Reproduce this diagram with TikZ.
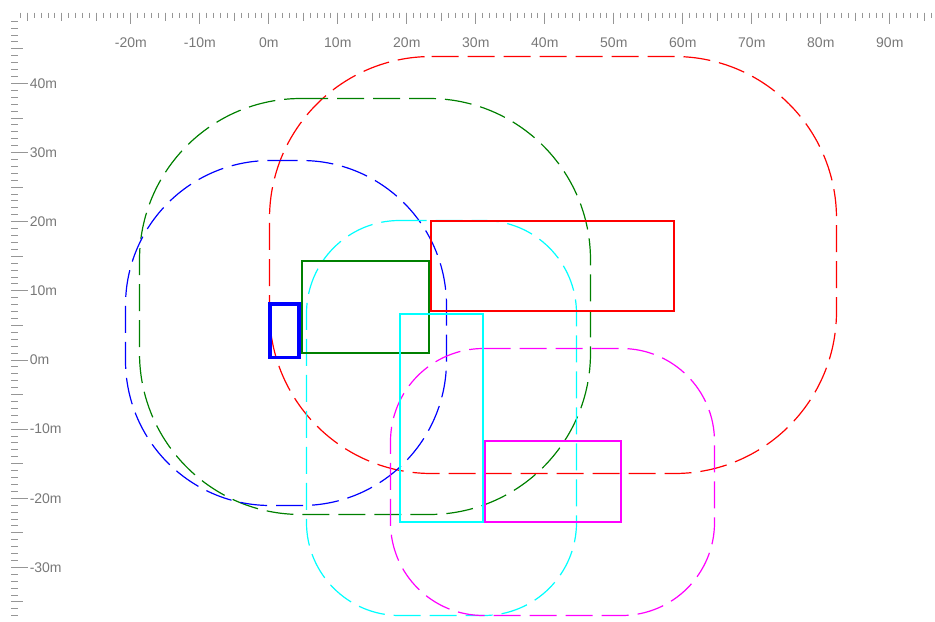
\documentclass[tikz,border=0pt]{standalone}
\usepackage{fontspec}
\setmainfont{Liberation Sans}
\definecolor{rulergray}{RGB}{150,150,150}
\definecolor{labelgray}{RGB}{120,120,120}
\definecolor{zonered}{RGB}{255,0,0}
\definecolor{zonegreen}{RGB}{0,128,0}
\definecolor{zoneblue}{RGB}{0,0,255}
\definecolor{zonecyan}{RGB}{0,255,255}
\definecolor{zonemagenta}{RGB}{255,0,255}

% rounded box: left, top, right, bottom, corner radius
\newcommand{\roundbox}[5]{({#1+#5},#2) -- ({#3-#5},#2) arc[start angle=-90,end angle=0,radius=#5]
  -- (#3,{#4-#5}) arc[start angle=0,end angle=90,radius=#5]
  -- ({#1+#5},#4) arc[start angle=90,end angle=180,radius=#5]
  -- (#1,{#2+#5}) arc[start angle=180,end angle=270,radius=#5] -- cycle}

\tikzset{
  tick/.style={draw=rulergray,line width=0.75},
  rulerlabel/.style={text=labelgray,font=\fontsize{10.5}{12}\selectfont,inner sep=0.75pt},
  area/.style={line width=1.2},
  buffer/.style={line width=0.9,dash pattern={on 20.25pt off 6.75pt}}
}

\begin{document}
\begin{tikzpicture}[x=0.75pt,y=0.75pt,yscale=-1,xscale=1]
\useasboundingbox (0,0) rectangle (935,621);

%Ruler: top
\foreach \m in {-36,...,96} \draw[tick] ({268.8+6.9*\m},12.7) -- ++(0,5.5);
\foreach \m in {-35,-30,...,95} \draw[tick] ({268.8+6.9*\m},12.7) -- ++(0,8.3);
\foreach \m in {-20,-10,...,90} {
  \draw[tick] ({268.8+6.9*\m},12.7) -- ++(0,11.3);
  \node[rulerlabel] (top\m) at ({268.8+6.9*\m},42.7) {\m m};
}
%Ruler: left
\foreach \m in {-37,...,49} \draw[tick] (11,{360-6.914*\m}) -- ++(7.3,0);
\foreach \m in {-35,-30,...,45} \draw[tick] (11,{360-6.914*\m}) -- ++(12,0);
\foreach \m in {-30,-20,...,40} {
  \draw[tick] (11,{360-6.914*\m}) -- ++(17,0);
  \node[rulerlabel,anchor=west] (left\m) at (28.5,{360-6.914*\m}) {\m m};
}

%Shape: Rounded Rectangle (red buffer)
\draw[buffer,zonered] \roundbox{269.5}{56.5}{836.5}{473.5}{162};
%Shape: Rounded Rectangle (green buffer)
\draw[buffer,zonegreen] \roundbox{139.5}{98.5}{590.5}{514.5}{161.5};
%Shape: Rounded Rectangle (blue buffer)
\draw[buffer,zoneblue] \roundbox{125.5}{160.5}{446.5}{505.5}{145};
%Shape: Rounded Rectangle (cyan buffer)
\draw[buffer,zonecyan] \roundbox{306.5}{220.5}{576.5}{615.5}{93};
%Shape: Rounded Rectangle (magenta buffer)
\draw[buffer,zonemagenta] \roundbox{390.5}{348.5}{714.5}{615.5}{93};

%Shape: Rectangle
\draw[area,zonered] (431,221) rectangle (674,311);
%Shape: Rectangle
\draw[area,zonegreen] (302,261) rectangle (429,353);
%Shape: Rectangle
\draw[area,zonecyan] (400,314) rectangle (483,522);
%Shape: Rectangle
\draw[area,zonemagenta] (485,441) rectangle (621,522);
%Shape: Rectangle
\draw[zoneblue,line width=2.6] (270,304) rectangle (299,357.5);

\end{tikzpicture}
\end{document}
